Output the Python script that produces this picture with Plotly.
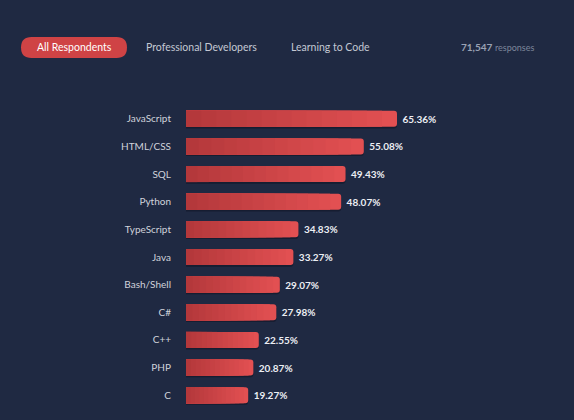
import plotly.graph_objects as go

languages = ["JavaScript", "HTML/CSS", "SQL", "Python", "TypeScript", "Java",
             "Bash/Shell", "C#", "C++", "PHP", "C"]
share = [65.36, 55.08, 49.43, 48.07, 34.83, 33.27, 29.07, 27.98, 22.55, 20.87, 19.27]
tabs = ["All Respondents", "Professional Developers", "Learning to Code"]
responses = "71,547"

BG = "#1f2942"
W, H = 574, 420
ML, MR, MT, MB = 186, 0, 105, 11
PW, PH = W - ML - MR, H - MT - MB

def px(x):
    return (x - ML) / PW

def py(y):
    return (H - MB - y) / PH

def lerp(c1, c2, t):
    return "rgb(%d,%d,%d)" % tuple(round(a + (b - a) * t) for a, b in zip(c1, c2))

light = (226, 80, 82)
dark = (180, 56, 59)

fig = go.Figure()
BW = 16 / 27.6

# shadow
fig.add_trace(go.Bar(y=languages, x=share, orientation="h", width=BW,
                     offset=-BW / 2 + 0.06, marker=dict(color="#161d31", line_width=0, cornerradius=3),
                     hoverinfo="skip", showlegend=False))
N = 14
for k in range(N):
    frac = (N - k) / N
    t = k / (N - 1)
    fig.add_trace(go.Bar(
        y=languages, x=[v * frac for v in share], orientation="h", width=BW,
        marker=dict(color=lerp(light, dark, t), line_width=0, cornerradius=3 if k == 0 else 0),
        text=["\u00a0" + f"{v:.2f}%" for v in share] if k == 0 else None,
        textposition="outside" if k == 0 else "none",
        textfont=dict(family="Lato", size=10, color="#eceef3", weight="bold"),
        cliponaxis=False, hoverinfo="skip", showlegend=False))

fig.update_layout(
    width=W, height=H, paper_bgcolor=BG, plot_bgcolor=BG,
    margin=dict(l=ML, r=MR, t=MT, b=MB),
    barmode="overlay",
    font=dict(family="Lato", color="#c9cdd6"),
    xaxis=dict(range=[0, PW / ((397 - 186) / 65.36)], visible=False, fixedrange=True),
    yaxis=dict(autorange="reversed", showgrid=False, zeroline=False, showline=False,
               ticks="", ticklabelstandoff=14, tickfont=dict(size=10, color="#d0d3db")),
)

# pill button
x0, x1, y0, y1 = 21, 127, 37, 58
r = (y1 - y0) / 2
path = (f"M {px(x0 + r)},{py(y0)} L {px(x1 - r)},{py(y0)} "
        f"Q {px(x1)},{py(y0)} {px(x1)},{py(y0 + r)} Q {px(x1)},{py(y1)} {px(x1 - r)},{py(y1)} "
        f"L {px(x0 + r)},{py(y1)} Q {px(x0)},{py(y1)} {px(x0)},{py(y0 + r)} "
        f"Q {px(x0)},{py(y0)} {px(x0 + r)},{py(y0)} Z")
fig.add_shape(type="path", path=path, xref="paper", yref="paper",
              fillcolor="#cf4345", line_width=0, layer="below")

tab_x = [74, 201, 330]
for i, (label, cx) in enumerate(zip(tabs, tab_x)):
    fig.add_annotation(x=px(cx), y=py(47.5), xref="paper", yref="paper", text=label,
                       showarrow=False, xanchor="center", yanchor="middle",
                       font=dict(size=10.5, color="#ffffff" if i == 0 else "#c3c8d3"))

fig.add_annotation(x=px(536), y=py(47.5), xref="paper", yref="paper",
                   text=f"<b>{responses}</b> <span style='font-size:9px;color:#7d869b'>responses</span>",
                   showarrow=False, xanchor="right", yanchor="middle",
                   font=dict(size=10, color="#9aa2b4"))

fig.write_html("out.html", config={"displayModeBar": False},
               post_script="document.body.style.margin='0';document.body.style.background='%s';" % BG)
